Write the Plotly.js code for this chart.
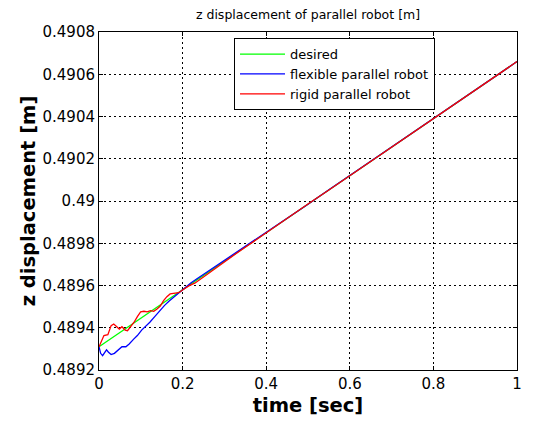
<!DOCTYPE html>
<html>
<head>
<meta charset="utf-8">
<script src="https://cdn.plot.ly/plotly-3.0.1.min.js"></script>
<style>html,body{margin:0;padding:0;background:#fff;}#chart{width:534px;height:424px;}</style>
</head>
<body>
<div id="chart"></div>
<script>
// desired trajectory
const desiredT = [0, 0.25, 0.5, 0.75, 1.0];
const desiredZ = [0.48931, 0.489648, 0.489985, 0.490322, 0.49066];

// flexible parallel robot
const flexT = [0, 0.0039, 0.0086, 0.0141, 0.018, 0.0227, 0.029, 0.0369, 0.0471, 0.0549, 0.0643, 0.0722, 0.0824, 0.0918, 0.102, 0.1114, 0.1216, 0.1333, 0.1451, 0.1569, 0.1686, 0.1804, 0.1922, 0.2039, 0.2196, 0.2353, 0.2549, 0.2784, 0.302, 0.3255, 0.349, 0.4, 0.45, 0.5, 0.55, 0.6, 0.65, 0.7, 0.75, 0.8, 0.85, 0.9, 0.95, 1.0];
const flexZ = [0.48931, 0.489279, 0.489268, 0.489284, 0.489295, 0.489284, 0.489273, 0.489279, 0.489299, 0.48931, 0.48931, 0.489323, 0.489345, 0.489363, 0.489389, 0.489405, 0.489426, 0.489453, 0.489481, 0.489506, 0.489528, 0.489547, 0.489568, 0.489588, 0.489612, 0.489633, 0.489659, 0.489689, 0.48972, 0.489752, 0.489782, 0.489851, 0.489918, 0.489985, 0.490053, 0.49012, 0.490188, 0.490255, 0.490323, 0.49039, 0.490458, 0.490525, 0.490593, 0.49066];

// rigid parallel robot
const rigidT = [0, 0.0055, 0.0118, 0.0212, 0.029, 0.0353, 0.0416, 0.0486, 0.0549, 0.0627, 0.0682, 0.0761, 0.0839, 0.0918, 0.0996, 0.1075, 0.1153, 0.1231, 0.131, 0.1388, 0.1467, 0.1545, 0.1624, 0.1702, 0.1804, 0.1906, 0.2, 0.2078, 0.215, 0.23, 0.25, 0.27, 0.29, 0.31, 0.33, 0.35, 0.4, 0.45, 0.5, 0.55, 0.6, 0.65, 0.7, 0.75, 0.8, 0.85, 0.9, 0.95, 1.0];
const rigidZ = [0.48931, 0.489339, 0.489363, 0.489367, 0.48941, 0.489418, 0.489405, 0.489394, 0.489405, 0.489389, 0.489386, 0.489405, 0.489426, 0.489453, 0.489475, 0.489478, 0.489475, 0.489481, 0.489478, 0.489489, 0.489503, 0.489528, 0.489547, 0.48956, 0.489563, 0.489566, 0.489579, 0.489591, 0.489598, 0.489612, 0.489641, 0.489668, 0.489697, 0.489726, 0.489754, 0.489781, 0.48985, 0.489916, 0.489986, 0.490052, 0.49012, 0.490187, 0.490256, 0.490322, 0.490391, 0.490458, 0.490525, 0.490592, 0.49066];

const seriesNames = ["desired", "flexible parallel robot", "rigid parallel robot"];

const xTickVals = [0, 0.2, 0.4, 0.6, 0.8, 1];
const xTickText = ["0", "0.2", "0.4", "0.6", "0.8", "1"];
const yTickVals = [0.4892, 0.4894, 0.4896, 0.4898, 0.49, 0.4902, 0.4904, 0.4906, 0.4908];
const yTickText = ["0.4892", "0.4894", "0.4896", "0.4898", "0.49", "0.4902", "0.4904", "0.4906", "0.4908"];

const FONT = "'DejaVu Sans', sans-serif";

const traces = [
  {x: desiredT, y: desiredZ, name: seriesNames[0], mode: "lines", line: {color: "#00ff00", width: 1.3}},
  {x: flexT, y: flexZ, name: seriesNames[1], mode: "lines", line: {color: "#0000ff", width: 1.3}},
  {x: rigidT, y: rigidZ, name: seriesNames[2], mode: "lines", line: {color: "#ff0000", width: 1.3}}
];

const axisCommon = {
  showline: true, linecolor: "#000", linewidth: 1, mirror: "ticks",
  ticks: "inside", ticklen: 4, tickcolor: "#000",
  showgrid: true, gridcolor: "#000", griddash: "2px,3px", gridwidth: 1,
  zeroline: false,
  tickfont: {family: FONT, size: 15, color: "#000"}
};

const layout = {
  width: 534, height: 424,
  margin: {l: 99, r: 17, t: 32, b: 54},
  paper_bgcolor: "#fff", plot_bgcolor: "#fff",
  showlegend: true,
  title: {text: "z displacement of parallel robot [m]", font: {family: FONT, size: 12.5, color: "#000"}, x: 0.5, xref: "paper", y: 0.965, yanchor: "middle"},
  xaxis: Object.assign({}, axisCommon, {
    range: [0, 1], tickvals: xTickVals, ticktext: xTickText,
    title: {text: "<b>time [sec]</b>", font: {family: FONT, size: 19.5, color: "#000"}, standoff: 6}
  }),
  yaxis: Object.assign({}, axisCommon, {
    range: [0.4892, 0.4908], tickvals: yTickVals, ticktext: yTickText,
    title: {text: "<b>z displacement [m]</b>", font: {family: FONT, size: 19.5, color: "#000"}, standoff: 1}
  }),
  legend: {
    x: 0.323, y: 0.982, xanchor: "left", yanchor: "top",
    bgcolor: "#fff", bordercolor: "#000", borderwidth: 1,
    font: {family: FONT, size: 13, color: "#000"},
    tracegroupgap: 0, itemwidth: 45
  }
};

Plotly.newPlot("chart", traces, layout, {displayModeBar: false, staticPlot: true});
</script>
</body>
</html>
